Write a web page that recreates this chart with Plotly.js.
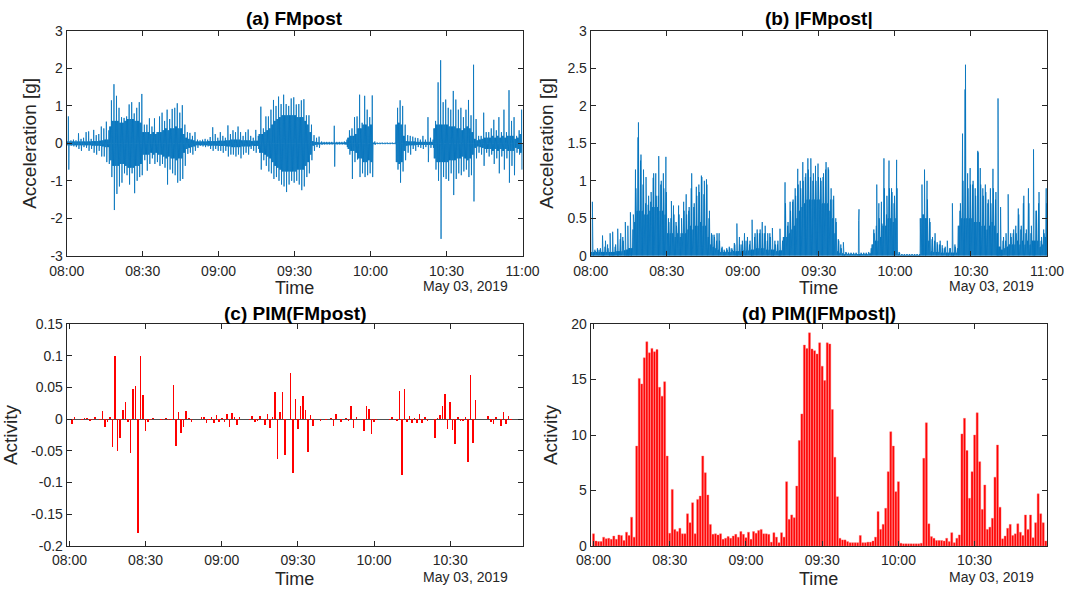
<!DOCTYPE html>
<html><head><meta charset="utf-8">
<script src="https://cdn.plot.ly/plotly-3.0.1.min.js"></script>
<style>html,body{margin:0;padding:0;background:#fff}#chart{width:1067px;height:591px}</style>
</head><body><div id="chart"></div>
<script>
// ---------- data ----------
const dateLabel = 'May 03, 2019';
const xLabel = 'Time';
const timeTickLabels = ['08:00','08:30','09:00','09:30','10:00','10:30','11:00'];
const panelTitles = ['(a) FMpost','(b) |FMpost|','(c) PIM(FMpost)','(d) PIM(|FMpost|)'];

// per-minute envelope of the FMpost signal (08:00 .. 10:59)
const accCore = [0.05,0.05,0.05,0.05,0.05,0.05,0.05,0.05,0.05,0.05,
 0.06,0.06,0.06,0.07,0.08,0.1,0.1,0.45,0.6,0.6,
 0.6,0.55,0.55,0.6,0.65,0.65,0.65,0.6,0.6,0.55,
 0.3,0.3,0.3,0.25,0.3,0.25,0.3,0.3,0.35,0.4,
 0.35,0.4,0.4,0.45,0.4,0.4,0.25,0.15,0.12,0.1,
 0.08,0.05,0.05,0.05,0.05,0.05,0.06,0.06,0.06,0.06,
 0.07,0.07,0.07,0.08,0.08,0.1,0.1,0.1,0.1,0.08,
 0.08,0.08,0.08,0.06,0.07,0.07,0.25,0.25,0.3,0.35,
 0.4,0.5,0.6,0.65,0.7,0.75,0.75,0.75,0.75,0.75,
 0.75,0.7,0.7,0.7,0.6,0.5,0.3,0.06,0.04,0.03,
 0.02,0.02,0.02,0.02,0.02,0.02,0.02,0.02,0.02,0.02,
 0.03,0.15,0.2,0.2,0.25,0.4,0.4,0.5,0.5,0.45,
 0.5,0.02,0.01,0.01,0.01,0.01,0.01,0.01,0.01,0.01,
 0.5,0.55,0.5,0.2,0.06,0.05,0.05,0.05,0.04,0.04,
 0.04,0.04,0.04,0.04,0.04,0.4,0.5,0.5,0.5,0.5,
 0.5,0.45,0.45,0.45,0.4,0.4,0.35,0.4,0.45,0.4,
 0.3,0.12,0.08,0.1,0.12,0.15,0.15,0.15,0.2,0.15,
 0.2,0.15,0.2,0.15,0.2,0.2,0.2,0.12,0.15,0.25];
const accPos = [0.72,0.08,0.1,0.08,0.27,0.12,0.15,0.3,0.32,0.12,
 0.36,0.22,0.25,0.45,0.4,0.58,0.35,1.15,1.58,1.27,
 0.95,0.7,0.68,0.72,1.04,1.1,0.8,0.95,1.1,1.32,
 0.5,0.5,0.67,0.45,0.67,0.3,0.72,0.82,0.6,0.9,
 0.65,0.92,0.95,1.07,0.82,1.02,0.5,0.3,0.28,0.2,
 0.3,0.1,0.08,0.1,0.12,0.1,0.17,0.43,0.25,0.15,
 0.3,0.2,0.15,0.48,0.25,0.35,0.3,0.45,0.3,0.2,
 0.3,0.37,0.2,0.15,0.36,0.2,0.98,0.4,0.72,0.72,
 0.9,1.16,1.0,1.25,1.05,1.3,1.05,1.0,1.2,1.23,
 1.04,1.05,1.15,1.18,0.75,0.75,0.5,0.22,0.15,0.18,
 0.05,0.04,0.04,0.04,0.04,0.47,0.04,0.04,0.04,0.05,
 0.1,0.35,0.4,0.7,0.72,1.3,0.55,1.27,0.9,0.7,
 1.28,0.05,0.02,0.02,0.02,0.02,0.02,0.02,0.02,0.02,
 0.95,1.15,1.0,0.5,0.22,0.2,0.18,0.15,0.14,0.1,
 0.2,0.1,0.7,0.15,0.1,0.6,1.63,2.22,1.1,1.17,
 0.95,0.9,1.4,1.17,0.9,0.95,0.7,0.9,1.16,0.75,
 2.1,0.65,0.2,0.2,0.82,0.3,0.3,0.4,0.63,0.35,
 0.7,0.3,0.9,0.3,1.42,0.6,0.7,0.2,0.35,0.9];
const accNeg = [-0.7,-0.06,-0.08,-0.1,-0.15,-0.2,-0.1,-0.12,-0.2,-0.15,
 -0.25,-0.3,-0.2,-0.35,-0.35,-0.5,-0.55,-0.9,-1.78,-1.35,
 -1.15,-1.05,-0.8,-0.85,-1.1,-0.8,-1.33,-1.0,-0.9,-0.85,
 -0.45,-0.73,-0.55,-0.4,-0.55,-0.5,-0.6,-0.55,-0.65,-1.1,
 -0.7,-0.8,-0.85,-1.05,-1.0,-0.95,-0.6,-0.28,-0.25,-0.3,
 -0.2,-0.12,-0.06,-0.08,-0.1,-0.08,-0.15,-0.2,-0.15,-0.2,
 -0.2,-0.25,-0.2,-0.35,-0.3,-0.3,-0.35,-0.3,-0.4,-0.3,
 -0.25,-0.3,-0.15,-0.2,-0.25,-0.15,-0.7,-0.45,-0.6,-0.75,
 -0.8,-0.95,-0.9,-1.0,-1.1,-1.15,-1.3,-1.1,-1.0,-1.05,
 -1.0,-1.1,-1.25,-1.15,-0.9,-0.8,-0.45,-0.2,-0.1,-0.12,
 -0.04,-0.03,-0.03,-0.03,-0.03,-0.62,-0.03,-0.03,-0.03,-0.03,
 -0.1,-0.3,-0.95,-0.5,-0.43,-0.9,-0.8,-0.9,-0.85,-0.8,
 -0.9,-0.04,-0.02,-0.02,-0.02,-0.02,-0.02,-0.02,-0.02,-0.02,
 -0.7,-1.05,-0.75,-0.45,-0.25,-0.3,-0.15,-0.2,-0.1,-0.12,
 -0.15,-0.1,-0.5,-0.12,-0.12,-0.7,-1.0,-2.55,-0.9,-0.95,
 -1.0,-0.8,-1.38,-0.95,-0.8,-0.85,-0.75,-0.7,-0.9,-0.85,
 -1.55,-0.4,-0.25,-0.3,-0.6,-0.25,-0.35,-0.3,-0.55,-0.4,
 -0.8,-0.35,-0.7,-0.4,-1.05,-0.6,-0.85,-0.25,-0.3,-0.7];

// PIM per minute (08:00 .. 10:58)
const pimSigned = [0,-0.007,0.004,0,0.001,-0.002,0.002,0.002,-0.003,-0.002,
 0.003,0,-0.002,0.013,-0.013,-0.005,0.004,-0.044,0.100,-0.051,
 -0.029,0.014,0.027,-0.004,-0.054,0.048,0.053,-0.180,0.100,0.038,
 -0.018,-0.004,-0.001,0.002,0,0,-0.002,-0.002,0.002,-0.002,
 -0.001,0.054,-0.043,0.011,-0.022,-0.013,0.013,0.002,-0.005,0,
 0,0,0.004,0.003,-0.006,-0.001,0.003,-0.006,0.007,-0.004,
 0.002,-0.005,0.008,-0.013,0.010,0.004,-0.010,0.003,0,0,
 0,-0.002,0.005,-0.005,-0.003,0.005,0,-0.010,0.008,-0.014,
 0.003,0.043,-0.063,0.012,0.043,-0.057,0,0.072,-0.085,0.031,
 -0.016,0.021,0.037,0.015,-0.052,0.007,-0.011,0.001,0.001,-0.003,
 0.001,-0.001,0.001,0.002,-0.011,0.008,0.001,-0.004,0,0.002,
 -0.003,0.020,-0.014,0.003,0,0,-0.019,0.020,0.016,-0.023,
 -0.005,-0.002,0,0,0,0,-0.002,0.003,0,-0.003,
 0.045,-0.088,0.048,-0.004,0.005,-0.006,0.002,-0.006,0.008,-0.006,
 0.003,-0.003,0.001,0,-0.029,0.002,0.007,0.021,0.040,-0.016,
 0.027,-0.017,-0.039,0.004,-0.003,-0.003,0.004,-0.068,0.070,-0.037,
 0.030,0,0,0,0,0.005,-0.004,-0.008,0.004,0,
 -0.011,0.011,-0.008,0.005,-0.002,0,0.001,0,0];
const pimAbs = [1.1,0.45,0.4,0.4,0.8,0.65,0.7,0.6,0.9,0.6,
 1.0,0.95,0.5,1.25,0.95,2.6,0.8,9.0,15.1,14.6,
 16.95,18.4,17.4,17.8,17.5,17.7,14.3,13.5,14.8,8.1,
 1.15,5.1,1.5,1.3,1.6,1.1,1.1,2.9,2.1,3.9,
 1.1,4.2,4.5,8.1,6.6,4.6,1.95,1.05,1.1,1.0,
 1.1,0.6,0.7,0.85,0.7,0.9,1.05,0.8,1.3,1.05,
 0.75,1.25,0.6,1.3,1.15,1.4,1.5,1.1,1.1,1.05,
 0.35,1.2,0.8,0.3,1.2,0.8,5.8,2.4,2.8,2.55,
 5.4,9.5,11.9,18.1,17.8,19.2,17.75,17.6,17.3,18.3,
 16.2,14.9,18.3,18.2,12.3,8.0,4.45,0.7,0.55,0.55,
 0.4,0.3,0.3,0.3,0.3,0.95,0.3,0.3,0.35,0.35,
 0.45,0.8,3.1,1.5,1.95,3.4,6.7,10.3,9.0,4.9,
 5.8,0.25,0.2,0.2,0.2,0.2,0.2,0.2,0.2,0.25,
 7.9,11.1,2.0,0.85,0.7,0.5,0.5,0.5,0.45,0.7,
 0.4,1.2,0.3,0.7,1.0,10.1,11.5,8.6,4.3,6.7,
 10.0,12.0,7.6,3.3,5.5,1.5,1.7,2.5,6.2,9.1,
 3.5,0.65,0.9,1.6,1.95,0.95,1.1,2.0,1.25,0.95,
 2.8,1.5,2.8,0.75,2.1,4.7,2.9,2.1,0.45];

const accTicks = [-3,-2,-1,0,1,2,3];
const accTickText = ['-3','-2','-1','0','1','2','3'];
const absTicks = [0,0.5,1,1.5,2,2.5,3];
const absTickText = ['0','0.5','1','1.5','2','2.5','3'];
const pimTicks = [-0.2,-0.15,-0.1,-0.05,0,0.05,0.1,0.15];
const pimTickText = ['-0.2','-0.15','-0.1','-0.05','0','0.05','0.1','0.15'];
const pimAbsTicks = [0,5,10,15,20];

// ---------- build ----------
const base = Date.UTC(2019,4,3,8,0,0);
const MIN = 60000;
const sigT = [], sigA = [];
for (let i = 0; i < accCore.length; i++) {
  const c = accCore[i], p = accPos[i], n = accNeg[i];
  const seq = [c,0,-c,0,c,0,-c,0,p,0,n,0];
  for (let k = 0; k < seq.length; k++) { sigT.push(base + (i + k/seq.length)*MIN); sigA.push(seq[k]); }
}
const sigAbs = sigA.map(Math.abs);
const barT = pimAbs.map((_, i) => base + i*MIN);
const tickVals = timeTickLabels.map((_, i) => base + i*30*MIN);

const FONT = 'Liberation Sans, Arial, Helvetica, sans-serif';
const INK = '#262626';
const BLUE = '#0072BD';
const RED = '#ff0000';

function ax(extra) {
  return Object.assign({
    showline:true, mirror:'ticks', linecolor:INK, linewidth:1,
    ticks:'inside', ticklen:5, tickwidth:1, tickcolor:INK,
    showgrid:false, zeroline:false, automargin:false,
    tickfont:{family:FONT, size:14, color:INK}
  }, extra);
}
const xL = [0.0625, 0.4897], xR = [0.5536, 0.9813];
const yT = [0.5673, 0.9475], yB = [0.0761, 0.4518];
const fullRange = [base, base + 180*MIN];
const pimRange = [base - 1.1*MIN, base + 178.5*MIN];
function xAx(domain, anchor, range, n, standoff) {
  return ax({type:'date', domain, anchor, range, ticklabelstandoff:standoff,
    tickvals: tickVals.slice(0, n), ticktext: timeTickLabels.slice(0, n)});
}
function yAx(domain, anchor, range, vals, text, label) {
  return ax({domain, anchor, range, tickvals:vals, ticktext:text,
    title:{text:label, font:{family:FONT, size:19, color:INK}, standoff:8}});
}

const traces = [
  {type:'scatter', mode:'lines', x:sigT, y:sigA, xaxis:'x', yaxis:'y',
   line:{color:BLUE, width:0.8}, hoverinfo:'skip'},
  {type:'scatter', mode:'lines', x:sigT, y:sigAbs, xaxis:'x2', yaxis:'y2',
   line:{color:BLUE, width:0.8}, hoverinfo:'skip'},
  {type:'bar', x:barT, y:pimSigned, xaxis:'x3', yaxis:'y3', width:0.6*MIN,
   marker:{color:RED, line:{width:0}}, hoverinfo:'skip'},
  {type:'bar', x:barT, y:pimAbs, xaxis:'x4', yaxis:'y4', width:0.8*MIN,
   marker:{color:RED, line:{width:0.4, color:'#ff7070'}}, hoverinfo:'skip'}
];

const ann = [];
const cxL = (xL[0]+xL[1])/2, cxR = (xR[0]+xR[1])/2;
const titlePos = [[cxL, 1-18.3/591],[cxR, 1-18.3/591],[cxL, 1-313.3/591],[cxR, 1-313.3/591]];
panelTitles.forEach((t, i) => ann.push({text:'<b>'+t+'</b>', xref:'paper', yref:'paper',
  x:titlePos[i][0], y:titlePos[i][1], xanchor:'center', yanchor:'middle', showarrow:false,
  font:{family:FONT, size:19, color:'#000'}}));
[[cxL, 1-288/591],[cxR, 1-288/591],[cxL, 1-578.5/591],[cxR, 1-578.5/591]]
  .forEach(p => ann.push({text:xLabel, xref:'paper', yref:'paper', x:p[0], y:p[1],
    xanchor:'center', yanchor:'middle', showarrow:false, borderpad:0,
    font:{family:FONT, size:18, color:INK}}));
[[465/1067, 1-286/591],[991/1067, 1-286/591],[465/1067, 1-577/591],[991/1067, 1-577/591]]
  .forEach(p => ann.push({text:dateLabel, xref:'paper', yref:'paper', x:p[0], y:p[1],
    xanchor:'center', yanchor:'middle', showarrow:false, font:{family:FONT, size:14, color:INK}}));

const layout = {
  width:1067, height:591, margin:{l:0,r:0,t:0,b:0},
  paper_bgcolor:'#fff', plot_bgcolor:'#fff', showlegend:false, bargap:0,
  xaxis: xAx(xL, 'y', fullRange, 7, 2),
  yaxis: yAx(yT, 'x', [-3,3], accTicks, accTickText, 'Acceleration [g]'),
  xaxis2: xAx(xR, 'y2', fullRange, 7, 2),
  yaxis2: yAx(yT, 'x2', [0,3], absTicks, absTickText, 'Acceleration [g]'),
  xaxis3: xAx(xL, 'y3', pimRange, 6, 1),
  yaxis3: Object.assign(yAx(yB, 'x3', [-0.2,0.15], pimTicks, pimTickText, 'Activity'),
          {zeroline:true, zerolinecolor:'#505050', zerolinewidth:1}),
  xaxis4: xAx(xR, 'y4', pimRange, 6, 1),
  yaxis4: yAx(yB, 'x4', [0,20], pimAbsTicks, pimAbsTicks.map(String), 'Activity'),
  annotations: ann
};
Plotly.newPlot('chart', traces, layout, {staticPlot:true, displayModeBar:false});
</script></body></html>
